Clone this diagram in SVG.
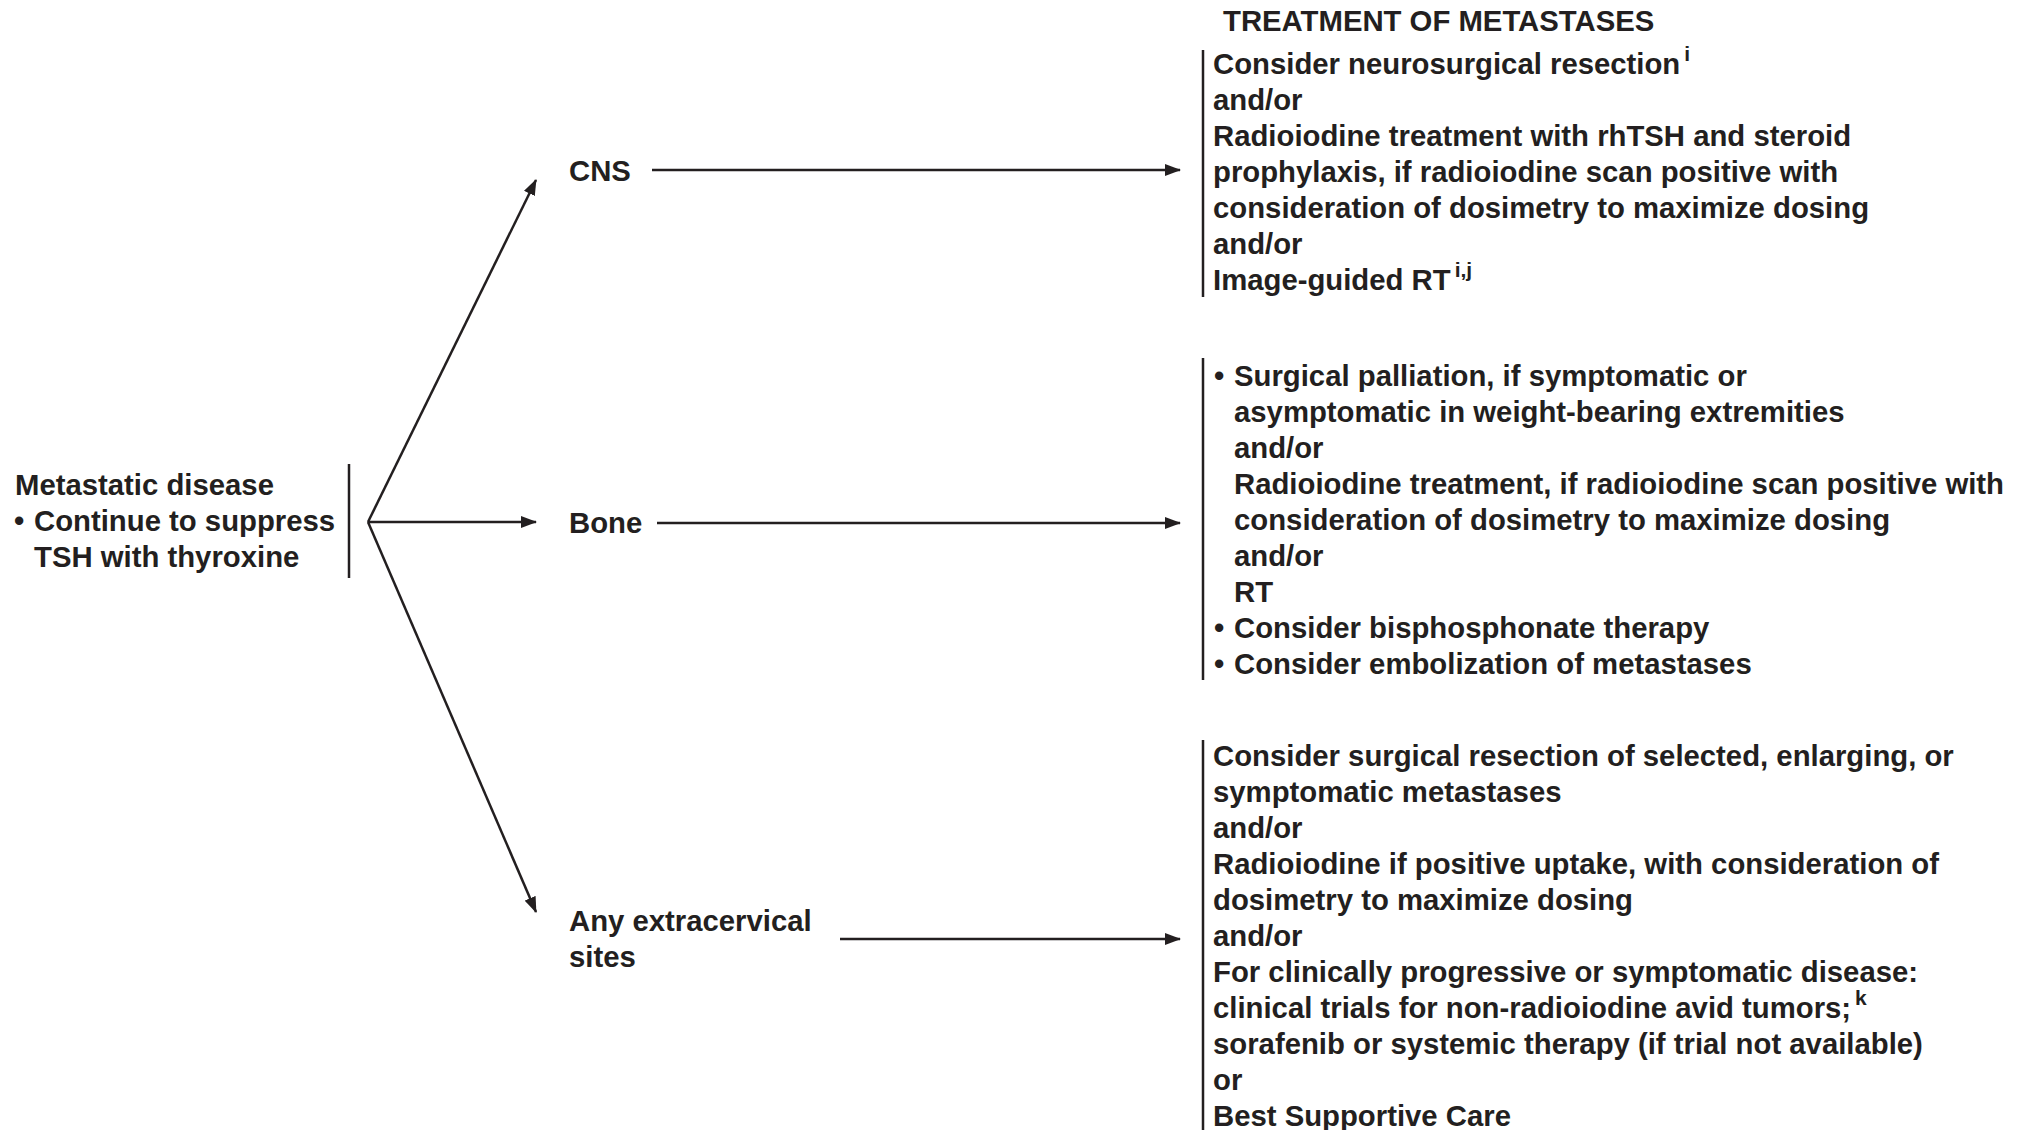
<svg xmlns="http://www.w3.org/2000/svg" width="2020" height="1130" viewBox="0 0 2020 1130">
  <style>
    text { font-family: "Liberation Sans", Arial, Helvetica, sans-serif; font-weight: bold; font-size: 29.3px; fill: #231f20; }
    .sup { font-size: 21px; }
    .bar { stroke: #231f20; stroke-width: 2.5; fill: none; }
    .edge { stroke: #231f20; stroke-width: 2.5; fill: none; marker-end: url(#arrow); }
  </style>
  <defs>
    <marker id="arrow" viewBox="0 0 16 12" refX="15" refY="6" markerWidth="16" markerHeight="12" markerUnits="userSpaceOnUse" orient="auto">
      <path d="M0,0 L16,6 L0,12 Z" fill="#231f20"/>
    </marker>
  </defs>
  <rect width="2020" height="1130" fill="#ffffff"/>

  <!-- column heading -->
  <g id="heading">
    <text x="1223" y="31">TREATMENT OF METASTASES</text>
  </g>

  <!-- starting condition -->
  <g id="node-metastatic">
    <text x="15" y="495">Metastatic disease</text>
    <text x="14" y="531">•</text>
    <text x="34" y="531">Continue to suppress</text>
    <text x="34" y="567">TSH with thyroxine</text>
    <line class="bar" x1="349" y1="464" x2="349" y2="578"/>
  </g>

  <!-- sites -->
  <g id="node-cns">
    <text x="569" y="181">CNS</text>
  </g>
  <g id="node-bone">
    <text x="569" y="533">Bone</text>
  </g>
  <g id="node-extracervical">
    <text x="569" y="931">Any extracervical</text>
    <text x="569" y="967">sites</text>
  </g>

  <!-- treatment per site -->
  <g id="node-cns-treatment">
    <line class="bar" x1="1203" y1="50" x2="1203" y2="297"/>
    <text x="1213" y="74">Consider neurosurgical resection<tspan class="sup" dx="4" dy="-13">i</tspan></text>
    <text x="1213" y="110">and/or</text>
    <text x="1213" y="146">Radioiodine treatment with rhTSH and steroid</text>
    <text x="1213" y="182">prophylaxis, if radioiodine scan positive with</text>
    <text x="1213" y="218">consideration of dosimetry to maximize dosing</text>
    <text x="1213" y="254">and/or</text>
    <text x="1213" y="290">Image-guided RT<tspan class="sup" dx="4" dy="-13">i,j</tspan></text>
  </g>

  <g id="node-bone-treatment">
    <line class="bar" x1="1203" y1="358" x2="1203" y2="680"/>
    <text x="1214" y="386">•</text>
    <text x="1234" y="386">Surgical palliation, if symptomatic or</text>
    <text x="1234" y="422">asymptomatic in weight-bearing extremities</text>
    <text x="1234" y="458">and/or</text>
    <text x="1234" y="494">Radioiodine treatment, if radioiodine scan positive with</text>
    <text x="1234" y="530">consideration of dosimetry to maximize dosing</text>
    <text x="1234" y="566">and/or</text>
    <text x="1234" y="602">RT</text>
    <text x="1214" y="638">•</text>
    <text x="1234" y="638">Consider bisphosphonate therapy</text>
    <text x="1214" y="674">•</text>
    <text x="1234" y="674">Consider embolization of metastases</text>
  </g>

  <g id="node-extracervical-treatment">
    <line class="bar" x1="1203" y1="740" x2="1203" y2="1130"/>
    <text x="1213" y="766">Consider surgical resection of selected, enlarging, or</text>
    <text x="1213" y="802">symptomatic metastases</text>
    <text x="1213" y="838">and/or</text>
    <text x="1213" y="874">Radioiodine if positive uptake, with consideration of</text>
    <text x="1213" y="910">dosimetry to maximize dosing</text>
    <text x="1213" y="946">and/or</text>
    <text x="1213" y="982">For clinically progressive or symptomatic disease:</text>
    <text x="1213" y="1018">clinical trials for non-radioiodine avid tumors;<tspan class="sup" dx="4" dy="-13">k</tspan></text>
    <text x="1213" y="1054">sorafenib or systemic therapy (if trial not available)</text>
    <text x="1213" y="1090">or</text>
    <text x="1213" y="1126">Best Supportive Care</text>
  </g>

  <!-- connectors -->
  <g id="connectors">
    <line class="edge" x1="368" y1="522" x2="536" y2="180"/>
    <line class="edge" x1="368" y1="522" x2="536" y2="522"/>
    <line class="edge" x1="368" y1="522" x2="536" y2="912"/>
    <line class="edge" x1="652" y1="170" x2="1180" y2="170"/>
    <line class="edge" x1="657" y1="523" x2="1180" y2="523"/>
    <line class="edge" x1="840" y1="939" x2="1180" y2="939"/>
  </g>
</svg>
